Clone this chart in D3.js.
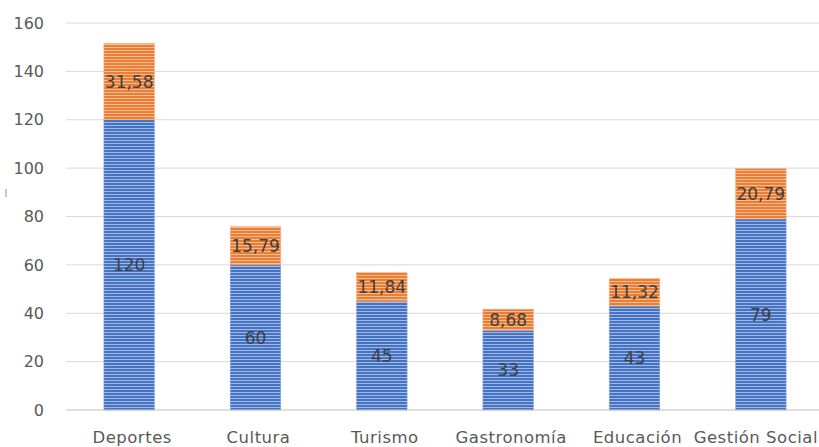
<!DOCTYPE html>
<html lang="es">
<head>
<meta charset="UTF-8">
<title>Gráfico</title>
<script src="https://d3js.org/d3.v7.min.js"></script>
<style>
  body { margin: 0; background: #fff; }
  svg { display: block; }
  .tick text { fill: #595959; font-family: "DejaVu Sans", sans-serif; }
  .ejey .tick text { font-size: 16px; }
  .ejex .tick text { font-size: 16.5px; letter-spacing: 0.5px; }
  .valor { font-family: "DejaVu Sans", sans-serif; font-size: 17px; fill: #404040; }
</style>
</head>
<body>
<svg width="819" height="447"></svg>
<script>
const categorias = ["Deportes", "Cultura", "Turismo", "Gastronomía", "Educación", "Gestión Social"];
const base = [120, 60, 45, 33, 43, 79];
const extra = [31.58, 15.79, 11.84, 8.68, 11.32, 20.79];
const yTicks = [0, 20, 40, 60, 80, 100, 120, 140, 160];

const svg = d3.select("svg");
const mLeft = 66, mRight = 824, mTop = 23, mBottom = 410;

const x = d3.scaleBand().domain(categorias).range([mLeft, mRight]).paddingInner(0.6).paddingOuter(0.3);
const y = d3.scaleLinear().domain([0, 160]).range([mBottom, mTop]);

// patrones de rayas horizontales
const defs = svg.append("defs");
function rayas(id, color) {
  const p = defs.append("pattern").attr("id", id)
    .attr("patternUnits", "userSpaceOnUse").attr("width", 6).attr("height", 3);
  p.append("rect").attr("width", 6).attr("height", 3).attr("fill", color);
  p.append("rect").attr("y", 2).attr("width", 6).attr("height", 1).attr("fill", "#fff").attr("opacity", 0.5);
}
rayas("azul", "#4472C4");
rayas("naranja", "#ED7D31");

// rejilla
svg.append("g").selectAll("line").data(yTicks.filter(d => d > 0)).enter().append("line")
  .attr("x1", mLeft).attr("x2", 819)
  .attr("y1", d => y(d)).attr("y2", d => y(d))
  .attr("stroke", "#d9d9d9").attr("stroke-width", 1);

// eje y
const yAxis = svg.append("g").attr("class", "ejey").attr("transform", "translate(44,0)")
  .call(d3.axisLeft(y).tickValues(yTicks).tickSize(0).tickPadding(0));
yAxis.select(".domain").remove();

// barras
const data = categorias.map((c, i) => ({ c, a: base[i], b: extra[i] }));
const g = svg.append("g");
g.selectAll(".base").data(data).enter().append("rect")
  .attr("x", d => x(d.c)).attr("width", x.bandwidth())
  .attr("y", d => y(d.a)).attr("height", d => y(0) - y(d.a))
  .attr("fill", "url(#azul)").attr("stroke", "#8eaadb").attr("stroke-width", 0.6);
g.selectAll(".extra").data(data).enter().append("rect")
  .attr("x", d => x(d.c)).attr("width", x.bandwidth())
  .attr("y", d => y(d.a + d.b)).attr("height", d => y(d.a) - y(d.a + d.b))
  .attr("fill", "url(#naranja)").attr("stroke", "#f4b183").attr("stroke-width", 0.6);

// etiquetas de valores
const fmt = v => String(v).replace(".", ",");
g.selectAll(".lb").data(data).enter().append("text").attr("class", "valor")
  .attr("x", d => x(d.c) + x.bandwidth() / 2).attr("y", d => y(d.a / 2))
  .attr("dy", "0.36em").attr("text-anchor", "middle").text(d => fmt(d.a));
g.selectAll(".le").data(data).enter().append("text").attr("class", "valor")
  .attr("x", d => x(d.c) + x.bandwidth() / 2).attr("y", d => y(d.a + d.b / 2))
  .attr("dy", "0.36em").attr("text-anchor", "middle").text(d => fmt(d.b));

// eje x
svg.append("line").attr("x1", mLeft).attr("x2", 819).attr("y1", mBottom).attr("y2", mBottom)
  .attr("stroke", "#bfbfbf").attr("stroke-width", 1.2);
const xAxis = svg.append("g").attr("class", "ejex").attr("transform", `translate(3,${mBottom})`)
  .call(d3.axisBottom(x).tickSize(0).tickPadding(21));
xAxis.select(".domain").remove();
// la última etiqueta se desplaza un poco para que quepa
xAxis.selectAll(".tick").filter(d => d === "Gestión Social").select("text").attr("dx", -8);

// marca cortada del título del eje y
svg.append("line").attr("x1", 6).attr("x2", 6).attr("y1", 189).attr("y2", 197)
  .attr("stroke", "#8c8c8c").attr("stroke-width", 1);
</script>
</body>
</html>
